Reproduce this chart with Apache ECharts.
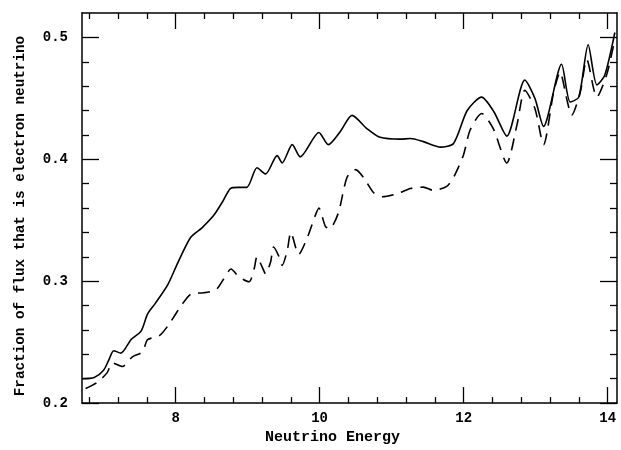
<!DOCTYPE html>
<html>
<head>
<meta charset="utf-8">
<script src="https://cdn.jsdelivr.net/npm/echarts@6/dist/echarts.min.js"></script>
<style>
html,body{margin:0;padding:0;background:#fff;}
#chart{width:621px;height:450px;}
</style>
</head>
<body>
<div id="chart"></div>
<script>
// Solid curve
var energySolid = [6.70,6.87,7.00,7.07,7.14,7.24,7.38,7.52,7.61,7.72,7.89,8.03,8.21,8.37,8.53,8.65,8.76,8.87,8.99,9.13,9.25,9.41,9.48,9.62,9.73,9.99,10.12,10.29,10.45,10.66,10.84,11.12,11.26,11.44,11.68,11.86,12.05,12.25,12.42,12.60,12.85,12.99,13.11,13.36,13.48,13.60,13.73,13.85,13.96,14.10];
var fracSolid   = [0.220,0.221,0.227,0.235,0.243,0.241,0.252,0.259,0.273,0.282,0.297,0.315,0.336,0.344,0.354,0.365,0.376,0.377,0.377,0.393,0.388,0.403,0.397,0.412,0.402,0.422,0.412,0.423,0.436,0.425,0.418,0.4165,0.417,0.4145,0.410,0.413,0.440,0.451,0.439,0.419,0.465,0.450,0.427,0.478,0.447,0.451,0.494,0.461,0.469,0.504];
// Dashed curve
var energyDashed = [6.75,6.91,7.05,7.12,7.26,7.40,7.54,7.61,7.77,7.90,8.09,8.23,8.39,8.56,8.67,8.77,8.88,9.02,9.09,9.13,9.20,9.25,9.32,9.36,9.43,9.48,9.55,9.60,9.71,9.83,9.94,9.99,10.08,10.14,10.26,10.38,10.50,10.61,10.75,10.87,11.08,11.26,11.44,11.58,11.77,11.88,12.00,12.09,12.25,12.41,12.60,12.74,12.85,12.99,13.11,13.25,13.34,13.43,13.50,13.62,13.71,13.85,13.99,14.10];
var fracDashed   = [0.212,0.217,0.225,0.233,0.230,0.238,0.242,0.252,0.255,0.264,0.281,0.290,0.2905,0.293,0.302,0.310,0.3035,0.2995,0.310,0.320,0.312,0.306,0.316,0.328,0.321,0.313,0.325,0.340,0.322,0.336,0.354,0.360,0.345,0.343,0.356,0.385,0.3915,0.385,0.3726,0.3693,0.3718,0.376,0.3772,0.3745,0.378,0.3875,0.404,0.424,0.4376,0.4254,0.397,0.428,0.4566,0.4417,0.412,0.455,0.4715,0.450,0.436,0.455,0.482,0.451,0.470,0.4986];
// Ticks
var xMajor = [8,10,12,14];
var xMinor = [6.8,7.2,7.6,8.4,8.8,9.2,9.6,10.4,10.8,11.2,11.6,12.4,12.8,13.2,13.6];
var yMajor = [0.2,0.3,0.4,0.5];
var yMinor = [0.22,0.24,0.26,0.28,0.32,0.34,0.36,0.38,0.42,0.44,0.46,0.48];
var xMin = 6.7, xMax = 14.13, yMin = 0.2, yMax = 0.52;

function zip(a,b){return a.map(function(v,i){return [v,b[i]];});}

var FONT = 'Liberation Mono';
var lineC = {color:'#000', width:1.5};

function xAx(pos, major, showLine, showLabel, extra){
  var o = {
    type:'value', position:pos, min:xMin, max:xMax,
    axisLine:{show:showLine, lineStyle:lineC},
    axisTick:{show:true, inside:true, customValues: major ? xMajor : xMinor, length: major?16:6, lineStyle:{color:'#000',width:1.3}},
    axisLabel:{show:showLabel, customValues:xMajor, color:'#000', fontFamily:FONT, fontWeight:'bold', fontSize:14, margin:8},
    splitLine:{show:false}
  };
  if (extra) for (var k in extra) o[k]=extra[k];
  return o;
}
function yAx(pos, major, showLine, showLabel, extra){
  var o = {
    type:'value', position:pos, min:yMin, max:yMax,
    axisLine:{show:showLine, lineStyle:lineC},
    axisTick:{show:true, inside:true, customValues: major ? yMajor : yMinor, length: major?17:7, lineStyle:{color:'#000',width:1.3}},
    axisLabel:{show:showLabel, customValues:yMajor, color:'#000', fontFamily:FONT, fontWeight:'bold', fontSize:14, margin:14,
      formatter:function(v){return v.toFixed(1);}},
    splitLine:{show:false}
  };
  if (extra) for (var k in extra) o[k]=extra[k];
  return o;
}

var chart = echarts.init(document.getElementById('chart'));
chart.setOption({
  animation:false,
  backgroundColor:'#fff',
  grid:{left:82, right:4, top:13, bottom:43, containLabel:false},
  xAxis:[
    xAx('bottom', true, true, true, {
      name:'Neutrino Energy', nameLocation:'middle', nameGap:25,
      nameTextStyle:{color:'#000', fontFamily:FONT, fontWeight:'bold', fontSize:15, padding:[0,34,0,0]}
    }),
    xAx('bottom', false, false, false),
    xAx('top', true, true, false),
    xAx('top', false, false, false)
  ],
  yAxis:[
    yAx('left', true, true, true, {
      name:'Fraction of flux that is electron neutrino', nameLocation:'middle', nameGap:55,
      nameTextStyle:{color:'#000', fontFamily:FONT, fontWeight:'bold', fontSize:14.3, padding:[0,16,0,0]}
    }),
    yAx('left', false, false, false),
    yAx('right', true, true, false),
    yAx('right', false, false, false)
  ],
  series:[
    {type:'line', xAxisIndex:0, yAxisIndex:0, data:zip(energySolid, fracSolid), showSymbol:false, smooth:0.25,
      lineStyle:{color:'#000', width:1.6}},
    {type:'line', xAxisIndex:0, yAxisIndex:0, data:zip(energyDashed, fracDashed), showSymbol:false, smooth:0.25,
      lineStyle:{color:'#000', width:1.6, type:[12,8]}}
  ]
});
</script>
</body>
</html>
